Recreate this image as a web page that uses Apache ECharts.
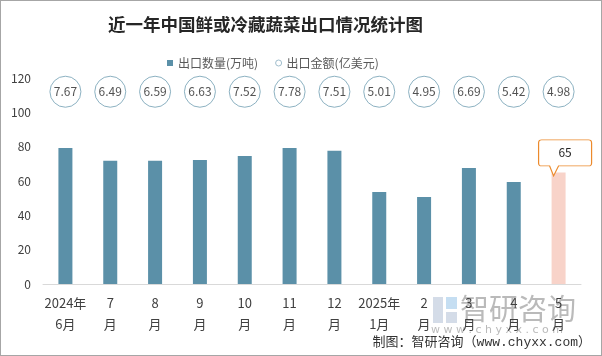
<!DOCTYPE html>
<html><head><meta charset="utf-8">
<script src="https://cdn.jsdelivr.net/npm/echarts@6/dist/echarts.min.js"></script>
<style>
html,body{margin:0;padding:0;background:#fff;}
#wrap{width:602px;height:356px;box-sizing:border-box;border:1px solid #a6a6a6;}
#main{width:600px;height:354px;}
</style></head>
<body><div id="wrap"><div id="main"></div></div>
<script>
const categories = ['2024年\n6月','7\n月','8\n月','9\n月','10\n月','11\n月','12\n月','2025年\n1月','2\n月','3\n月','4\n月','5\n月'];
const volume = [79.2, 71.8, 71.8, 72.3, 74.5, 79.2, 77.6, 53.6, 50.7, 67.6, 59.4, 65];
const amount = [7.67, 6.49, 6.59, 6.63, 7.52, 7.78, 7.51, 5.01, 4.95, 6.69, 5.42, 4.98];
const yTicks = [0, 20, 40, 60, 80, 100, 120];
const circleRow = 112;
const highlightIndex = 11;
const highlightLabel = '65';

const chart = echarts.init(document.getElementById('main'));
const barData = volume.map((v, i) => i === highlightIndex ? {value: v, itemStyle: {color: '#f8d3c9'}} : v);
const fontCJK = '"Noto Sans CJK SC", "Microsoft YaHei", sans-serif';
chart.setOption({
  animation: false,
  title: {
    text: '近一年中国鲜或冷藏蔬菜出口情况统计图',
    left: 102, top: 10,
    textStyle: {fontSize: 17.5, fontWeight: 'bold', color: '#262626', fontFamily: fontCJK}
  },
  legend: {
    top: 51, left: 161, itemGap: 17, itemWidth: 6, itemHeight: 6,
    textStyle: {fontSize: 12, color: '#595959', fontFamily: fontCJK},
    data: [
      {name: '出口数量(万吨)', icon: 'rect'},
      {name: '出口金额(亿美元)', icon: 'circle', itemStyle: {color: '#fff', borderColor: '#8aaec0', borderWidth: 1}}
    ]
  },
  grid: {left: 42, right: 20, top: 77, bottom: 71},
  xAxis: {
    type: 'category', data: categories,
    axisLine: {lineStyle: {color: '#d9d9d9'}},
    axisTick: {show: false},
    axisLabel: {fontSize: 13, color: '#404040', lineHeight: 21, margin: 9, interval: 0, fontFamily: fontCJK}
  },
  yAxis: {
    type: 'value', min: 0, max: 120, interval: 20,
    splitLine: {show: false},
    axisLine: {show: false}, axisTick: {show: false},
    axisLabel: {fontSize: 12, color: '#404040', margin: 12, fontFamily: fontCJK,
      formatter: v => yTicks.includes(v) ? String(v) : ''}
  },
  series: [
    {
      name: '出口数量(万吨)', type: 'bar', data: barData, barWidth: 14,
      itemStyle: {color: '#5b90a8'},
      markPoint: {
        symbol: 'path://M3,0 L50,0 Q53,0 53,3 L53,23 Q53,26 50,26 L20,26 L15,36 L11,26 L3,26 Q0,26 0,23 L0,3 Q0,0 3,0 Z',
        symbolSize: [53, 36], symbolKeepAspect: false,
        symbolOffset: [6.5, -14.5],
        itemStyle: {color: '#fff', borderColor: '#ec8a2c', borderWidth: 1},
        label: {show: true, position: 'inside', offset: [0, -5], fontSize: 12, color: '#262626',
          formatter: () => highlightLabel, fontFamily: fontCJK},
        data: [{coord: [highlightIndex, volume[highlightIndex]]}]
      }
    },
    {
      name: '出口金额(亿美元)', type: 'scatter',
      data: amount.map((v, i) => [i, circleRow, v]),
      encode: {x: 0, y: 1},
      symbol: 'circle', symbolSize: 31,
      itemStyle: {color: '#fff', borderColor: '#6f9db2', borderWidth: 1},
      label: {show: true, position: 'inside', fontSize: 12, color: '#262626', fontFamily: fontCJK,
        formatter: p => p.value[2].toFixed(2)}
    }
  ],
  graphic: [
    {type: 'rect', left: 432, top: 296, shape: {width: 10, height: 26}, style: {fill: 'rgba(170,185,210,0.5)'}, silent: true},
    {type: 'rect', left: 445, top: 296, shape: {width: 11, height: 12}, style: {fill: 'rgba(140,190,230,0.5)'}, silent: true},
    {type: 'rect', left: 445, top: 311, shape: {width: 11, height: 11}, style: {fill: 'rgba(170,185,210,0.5)'}, silent: true},
    {type: 'text', left: 459, top: 293, style: {text: '智研咨询', font: '29px "Noto Sans CJK SC", sans-serif', fill: 'rgba(140,140,140,0.6)'}, silent: true},
    {type: 'text', left: 430, top: 324, style: {text: 'w w w . c h y x x . c o m', font: '11px "DejaVu Sans", sans-serif', fill: 'rgba(140,140,140,0.6)'}, silent: true},
    {type: 'text', right: 10, top: 335, style: {text: '制图：智研咨询（www.chyxx.com）', font: '13px "Liberation Mono", "Noto Sans CJK SC", monospace', fill: '#333'}, silent: true}
  ]
});
</script></body></html>
